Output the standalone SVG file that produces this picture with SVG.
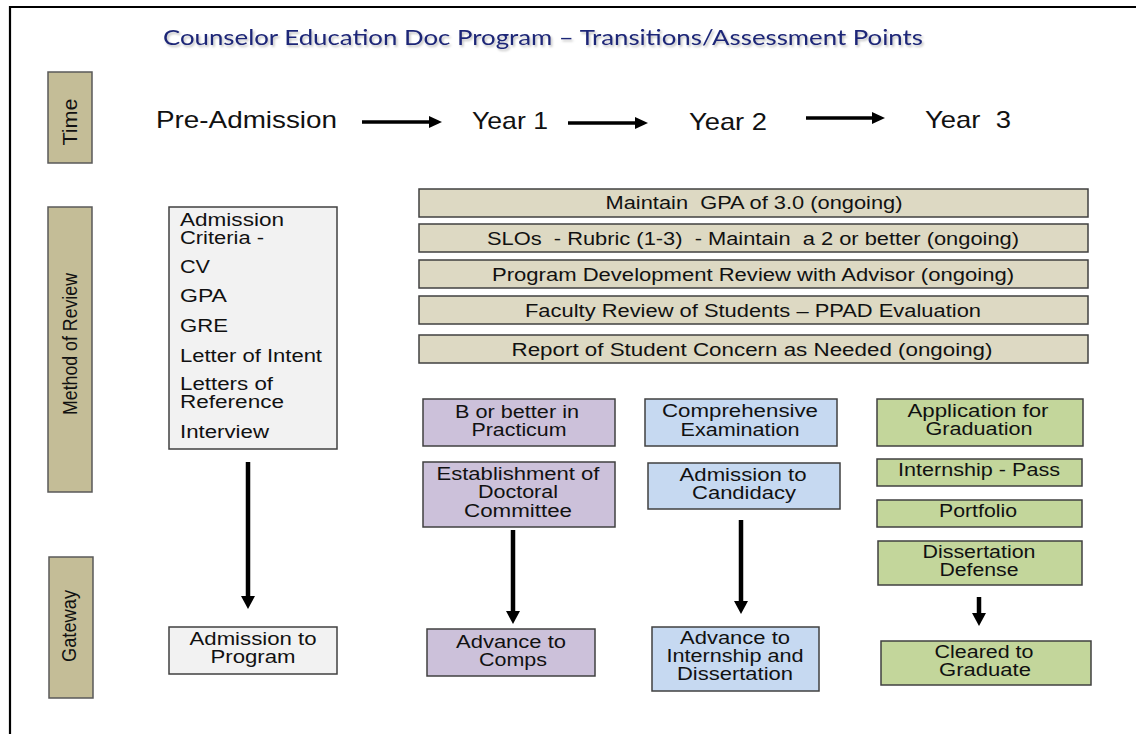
<svg xmlns="http://www.w3.org/2000/svg" width="1136" height="734" viewBox="0 0 1136 734">
<style>
  .frame{stroke:#000;stroke-width:2.2;fill:none}
  .lbl{fill:#c4bd97;stroke:#595959;stroke-width:1.5}
  .bar{fill:#ddd9c3;stroke:#404040;stroke-width:1.5}
  .gray{fill:#f2f2f2;stroke:#404040;stroke-width:1.5}
  .purple{fill:#ccc1da;stroke:#404040;stroke-width:1.5}
  .blue{fill:#c6d9f1;stroke:#404040;stroke-width:1.5}
  .green{fill:#c3d69b;stroke:#404040;stroke-width:1.5}
  text{font-family:"Liberation Sans",Arial,sans-serif;fill:#111}
  .t17{font-size:17.5px}
  .c{text-anchor:middle}
  .side{font-size:21px;text-anchor:middle}
  .time{font-size:24px}
  .title{font-family:Lato,"Open Sans",sans-serif;font-size:22px;fill:#1f2777}
  .conn line{stroke:#000;fill:none}
</style>
<defs>
  <marker id="hv" markerUnits="userSpaceOnUse" markerWidth="13" markerHeight="14" refX="0" refY="7" orient="auto">
    <path d="M0,0 L13,7 L0,14 z" fill="#000"/>
  </marker>
  <marker id="hh" markerUnits="userSpaceOnUse" markerWidth="13" markerHeight="12" refX="0" refY="6" orient="auto">
    <path d="M0,0 L13,6 L0,12 z" fill="#000"/>
  </marker>
  <filter id="shadow" x="-5%" y="-50%" width="110%" height="200%">
    <feDropShadow dx="1.5" dy="2" stdDeviation="1.2" flood-color="#000" flood-opacity="0.25"/>
  </filter>
</defs>

<rect width="1136" height="734" fill="#fff"/>
<path class="frame" d="M10,734 L10,7 L1136,7"/>

<g id="title">
  <text class="title" x="163" y="45" textLength="760" lengthAdjust="spacingAndGlyphs" filter="url(#shadow)">Counselor Education Doc Program – Transitions/Assessment Points</text>
</g>

<g id="label-time">
  <rect class="lbl" x="48" y="72" width="44" height="91"/>
  <text class="side" transform="translate(77,122) rotate(-90)" textLength="47" lengthAdjust="spacingAndGlyphs">Time</text>
</g>
<g id="label-method">
  <rect class="lbl" x="48" y="207" width="44" height="285"/>
  <text class="side" transform="translate(77,344) rotate(-90)" textLength="142" lengthAdjust="spacingAndGlyphs">Method of Review</text>
</g>
<g id="label-gateway">
  <rect class="lbl" x="49" y="557" width="44" height="141"/>
  <text class="side" transform="translate(76,626) rotate(-90)" textLength="72" lengthAdjust="spacingAndGlyphs">Gateway</text>
</g>

<g id="time-pre"><text class="time" x="156" y="128" textLength="181" lengthAdjust="spacingAndGlyphs">Pre-Admission</text></g>
<g id="time-y1"><text class="time" x="472" y="129" textLength="76" lengthAdjust="spacingAndGlyphs">Year 1</text></g>
<g id="time-y2"><text class="time" x="689" y="130" textLength="78" lengthAdjust="spacingAndGlyphs">Year 2</text></g>
<g id="time-y3"><text class="time" x="925" y="128" textLength="86" lengthAdjust="spacingAndGlyphs" xml:space="preserve">Year  3</text></g>

<g id="bar-gpa">
  <rect class="bar" x="419" y="189" width="669" height="28"/>
  <text class="t17 c" x="754" y="209" textLength="297" lengthAdjust="spacingAndGlyphs" xml:space="preserve">Maintain  GPA of 3.0 (ongoing)</text>
</g>
<g id="bar-slo">
  <rect class="bar" x="419" y="224" width="669" height="28"/>
  <text class="t17 c" x="753" y="245" textLength="532" lengthAdjust="spacingAndGlyphs" xml:space="preserve">SLOs  - Rubric (1-3)  - Maintain  a 2 or better (ongoing)</text>
</g>
<g id="bar-pdr">
  <rect class="bar" x="419" y="260" width="669" height="28"/>
  <text class="t17 c" x="753" y="281" textLength="522" lengthAdjust="spacingAndGlyphs">Program Development Review with Advisor (ongoing)</text>
</g>
<g id="bar-faculty">
  <rect class="bar" x="419" y="296" width="669" height="28"/>
  <text class="t17 c" x="753" y="317" textLength="456" lengthAdjust="spacingAndGlyphs">Faculty Review of Students – PPAD Evaluation</text>
</g>
<g id="bar-report">
  <rect class="bar" x="419" y="335" width="669" height="28"/>
  <text class="t17 c" x="752" y="356" textLength="481" lengthAdjust="spacingAndGlyphs">Report of Student Concern as Needed (ongoing)</text>
</g>

<g id="admission-criteria">
  <rect class="gray" x="169" y="207" width="168" height="242"/>
  <text class="t17" x="180" y="226" textLength="104" lengthAdjust="spacingAndGlyphs">Admission</text>
  <text class="t17" x="180" y="244" textLength="84" lengthAdjust="spacingAndGlyphs">Criteria -</text>
  <text class="t17" x="180" y="273" textLength="30" lengthAdjust="spacingAndGlyphs">CV</text>
  <text class="t17" x="180" y="302" textLength="47" lengthAdjust="spacingAndGlyphs">GPA</text>
  <text class="t17" x="180" y="332" textLength="48" lengthAdjust="spacingAndGlyphs">GRE</text>
  <text class="t17" x="180" y="362" textLength="142" lengthAdjust="spacingAndGlyphs">Letter of Intent</text>
  <text class="t17" x="180" y="390" textLength="93" lengthAdjust="spacingAndGlyphs">Letters of</text>
  <text class="t17" x="180" y="408" textLength="104" lengthAdjust="spacingAndGlyphs">Reference</text>
  <text class="t17" x="180" y="438" textLength="89" lengthAdjust="spacingAndGlyphs">Interview</text>
</g>
<g id="admission-program">
  <rect class="gray" x="169" y="627" width="168" height="47"/>
  <text class="t17 c" x="253" y="645" textLength="127" lengthAdjust="spacingAndGlyphs">Admission to</text>
  <text class="t17 c" x="253" y="663" textLength="85" lengthAdjust="spacingAndGlyphs">Program</text>
</g>

<g id="practicum">
  <rect class="purple" x="423" y="399" width="192" height="47"/>
  <text class="t17 c" x="517" y="417.5" textLength="124" lengthAdjust="spacingAndGlyphs">B or better in</text>
  <text class="t17 c" x="519" y="435.5" textLength="95" lengthAdjust="spacingAndGlyphs">Practicum</text>
</g>
<g id="committee">
  <rect class="purple" x="423" y="462" width="192" height="65"/>
  <text class="t17 c" x="518" y="480" textLength="163" lengthAdjust="spacingAndGlyphs">Establishment of</text>
  <text class="t17 c" x="518" y="498" textLength="80" lengthAdjust="spacingAndGlyphs">Doctoral</text>
  <text class="t17 c" x="518" y="517" textLength="108" lengthAdjust="spacingAndGlyphs">Committee</text>
</g>
<g id="comps">
  <rect class="purple" x="427" y="629" width="168" height="47"/>
  <text class="t17 c" x="511" y="648" textLength="110" lengthAdjust="spacingAndGlyphs">Advance to</text>
  <text class="t17 c" x="513" y="666" textLength="68" lengthAdjust="spacingAndGlyphs">Comps</text>
</g>

<g id="comprehensive">
  <rect class="blue" x="645" y="399" width="192" height="47"/>
  <text class="t17 c" x="740" y="417" textLength="156" lengthAdjust="spacingAndGlyphs">Comprehensive</text>
  <text class="t17 c" x="740" y="436" textLength="119" lengthAdjust="spacingAndGlyphs">Examination</text>
</g>
<g id="candidacy">
  <rect class="blue" x="648" y="463" width="192" height="46"/>
  <text class="t17 c" x="743" y="481" textLength="127" lengthAdjust="spacingAndGlyphs">Admission to</text>
  <text class="t17 c" x="744" y="499" textLength="104" lengthAdjust="spacingAndGlyphs">Candidacy</text>
</g>
<g id="internship-dissertation">
  <rect class="blue" x="652" y="627" width="167" height="64"/>
  <text class="t17 c" x="735" y="644" textLength="110" lengthAdjust="spacingAndGlyphs">Advance to</text>
  <text class="t17 c" x="735" y="662" textLength="137" lengthAdjust="spacingAndGlyphs">Internship and</text>
  <text class="t17 c" x="735" y="680" textLength="116" lengthAdjust="spacingAndGlyphs">Dissertation</text>
</g>

<g id="application">
  <rect class="green" x="877" y="399" width="206" height="47"/>
  <text class="t17 c" x="978" y="417" textLength="141" lengthAdjust="spacingAndGlyphs">Application for</text>
  <text class="t17 c" x="979" y="435" textLength="107" lengthAdjust="spacingAndGlyphs">Graduation</text>
</g>
<g id="internship-pass">
  <rect class="green" x="877" y="459" width="205" height="27"/>
  <text class="t17 c" x="979" y="476" textLength="162" lengthAdjust="spacingAndGlyphs">Internship - Pass</text>
</g>
<g id="portfolio">
  <rect class="green" x="877" y="500" width="205" height="27"/>
  <text class="t17 c" x="978" y="517" textLength="78" lengthAdjust="spacingAndGlyphs">Portfolio</text>
</g>
<g id="defense">
  <rect class="green" x="878" y="541" width="204" height="44"/>
  <text class="t17 c" x="979" y="557.5" textLength="113" lengthAdjust="spacingAndGlyphs">Dissertation</text>
  <text class="t17 c" x="979" y="575.5" textLength="79" lengthAdjust="spacingAndGlyphs">Defense</text>
</g>
<g id="cleared">
  <rect class="green" x="881" y="641" width="210" height="44"/>
  <text class="t17 c" x="984" y="657.5" textLength="99" lengthAdjust="spacingAndGlyphs">Cleared to</text>
  <text class="t17 c" x="985" y="675.5" textLength="92" lengthAdjust="spacingAndGlyphs">Graduate</text>
</g>

<g id="connectors" class="conn">
  <line x1="362" y1="122" x2="429" y2="122" stroke-width="3.5" marker-end="url(#hh)"/>
  <line x1="568" y1="123" x2="635" y2="123" stroke-width="3.5" marker-end="url(#hh)"/>
  <line x1="806" y1="118" x2="872" y2="118" stroke-width="3.5" marker-end="url(#hh)"/>
  <line x1="248" y1="462" x2="248" y2="596" stroke-width="4.5" marker-end="url(#hv)"/>
  <line x1="513" y1="530" x2="513" y2="611" stroke-width="4.5" marker-end="url(#hv)"/>
  <line x1="741" y1="520" x2="741" y2="601" stroke-width="4.5" marker-end="url(#hv)"/>
  <line x1="979" y1="597" x2="979" y2="613" stroke-width="4.5" marker-end="url(#hv)"/>
</g>
</svg>
